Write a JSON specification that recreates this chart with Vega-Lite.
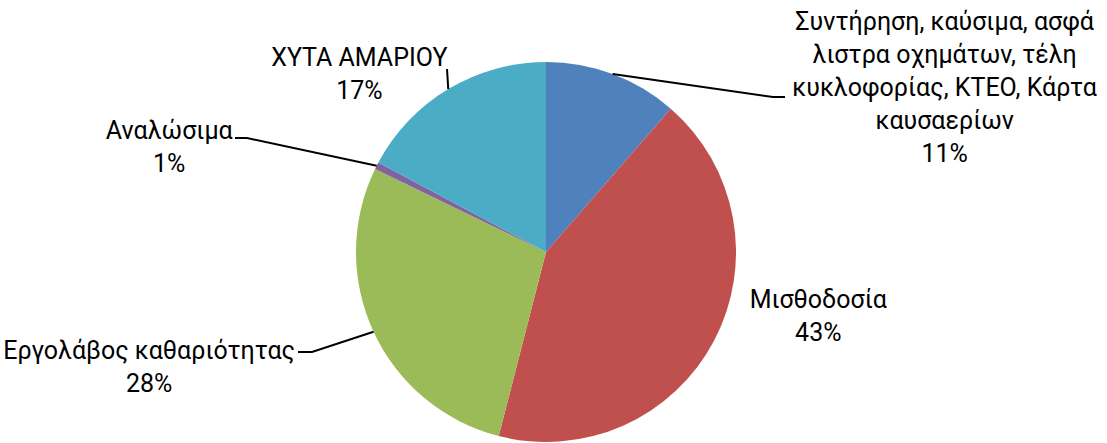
{
  "$schema": "https://vega.github.io/schema/vega-lite/v6.json",
  "width": 1092,
  "height": 382,
  "autosize": "none",
  "padding": {"left": 0, "top": 61, "right": 15, "bottom": 0},
  "background": "white",
  "config": {"view": {"stroke": null}, "font": "Roboto"},
  "data": {
    "values": [
      {"n": 1, "category": "Συντήρηση, καύσιμα, ασφάλιστρα οχημάτων, τέλη κυκλοφορίας, ΚΤΕΟ, Κάρτα καυσαερίων", "label": "Συντήρηση, καύσιμα, ασφά\nλιστρα οχημάτων, τέλη\nκυκλοφορίας, ΚΤΕΟ, Κάρτα\nκαυσαερίων", "value": 11.4},
      {"n": 2, "category": "Μισθοδοσία", "label": "Μισθοδοσία", "value": 42.6},
      {"n": 3, "category": "Εργολάβος καθαριότητας", "label": "Εργολάβος καθαριότητας", "value": 28.2},
      {"n": 4, "category": "Αναλώσιμα", "label": "Αναλώσιμα", "value": 0.6},
      {"n": 5, "category": "ΧΥΤΑ ΑΜΑΡΙΟΥ", "label": "ΧΥΤΑ ΑΜΑΡΙΟΥ", "value": 17.2}
    ]
  },
  "transform": [
    {"window": [{"op": "sum", "field": "value", "as": "cum"}], "sort": [{"field": "n"}], "frame": [null, 0]},
    {"calculate": "datum.cum - datum.value/2", "as": "mid"},
    {"calculate": "datum.label + '\\n' + format(datum.value/100, '.0%')", "as": "txt"}
  ],
  "layer": [
    {
      "mark": {"type": "arc", "outerRadius": 190},
      "encoding": {
        "theta": {"field": "value", "type": "quantitative", "stack": true},
        "order": {"field": "n", "type": "quantitative"},
        "color": {
          "field": "category", "type": "nominal",
          "scale": {
            "domain": ["Συντήρηση, καύσιμα, ασφάλιστρα οχημάτων, τέλη κυκλοφορίας, ΚΤΕΟ, Κάρτα καυσαερίων", "Μισθοδοσία", "Εργολάβος καθαριότητας", "Αναλώσιμα", "ΧΥΤΑ ΑΜΑΡΙΟΥ"],
            "range": ["#4F81BD", "#C0504D", "#9BBB59", "#8064A2", "#4BACC6"]
          },
          "legend": null
        }
      }
    },
    {
      "transform": [{"filter": "datum.n == 1"}],
      "mark": {"type": "text", "radius": 250, "dx": 311, "dy": 4, "align": "center", "baseline": "middle", "lineBreak": "\n", "lineHeight": 33, "fontSize": 25, "font": "Roboto", "color": "#000000"},
      "encoding": {"theta": {"field": "mid", "type": "quantitative", "stack": null, "scale": {"domain": [0, 100]}}, "text": {"field": "txt"}}
    },
    {
      "transform": [{"filter": "datum.n == 2"}],
      "mark": {"type": "text", "radius": 250, "dx": 51, "dy": -68, "align": "center", "baseline": "middle", "lineBreak": "\n", "lineHeight": 33, "fontSize": 25, "font": "Roboto", "color": "#000000"},
      "encoding": {"theta": {"field": "mid", "type": "quantitative", "stack": null, "scale": {"domain": [0, 100]}}, "text": {"field": "txt"}}
    },
    {
      "transform": [{"filter": "datum.n == 3"}],
      "mark": {"type": "text", "radius": 250, "dx": -170, "dy": -6, "align": "center", "baseline": "middle", "lineBreak": "\n", "lineHeight": 33, "fontSize": 25, "font": "Roboto", "color": "#000000"},
      "encoding": {"theta": {"field": "mid", "type": "quantitative", "stack": null, "scale": {"domain": [0, 100]}}, "text": {"field": "txt"}}
    },
    {
      "transform": [{"filter": "datum.n == 4"}],
      "mark": {"type": "text", "radius": 250, "dx": -154, "dy": -8, "align": "center", "baseline": "middle", "lineBreak": "\n", "lineHeight": 33, "fontSize": 25, "font": "Roboto", "color": "#000000"},
      "encoding": {"theta": {"field": "mid", "type": "quantitative", "stack": null, "scale": {"domain": [0, 100]}}, "text": {"field": "txt"}}
    },
    {
      "transform": [{"filter": "datum.n == 5"}],
      "mark": {"type": "text", "radius": 250, "dx": -58, "dy": 20, "align": "center", "baseline": "middle", "lineBreak": "\n", "lineHeight": 33, "fontSize": 25, "font": "Roboto", "color": "#000000"},
      "encoding": {"theta": {"field": "mid", "type": "quantitative", "stack": null, "scale": {"domain": [0, 100]}}, "text": {"field": "txt"}}
    },
    {
      "transform": [
        {"filter": "datum.n != 2"},
        {"calculate": "2*PI*datum.mid/100", "as": "ang"},
        {"calculate": "[190*sin(datum.ang), datum.n==1 ? 227 : datum.n==3 ? -234 : datum.n==4 ? -299 : -99, datum.n==1 ? 239 : datum.n==3 ? -248 : datum.n==4 ? -311 : -99]", "as": "px"},
        {"calculate": "[190*cos(datum.ang), datum.n==1 ? 155 : datum.n==3 ? -100 : datum.n==4 ? 114 : 183, datum.n==1 ? 155 : datum.n==3 ? -100 : datum.n==4 ? 114 : 183]", "as": "py"},
        {"calculate": "[0, 1, 2]", "as": "k"},
        {"flatten": ["px", "py", "k"]}
      ],
      "mark": {"type": "line", "color": "#000000", "strokeWidth": 2},
      "encoding": {
        "x": {"field": "px", "type": "quantitative", "scale": {"domain": [-546, 546], "nice": false, "zero": false}, "axis": null},
        "y": {"field": "py", "type": "quantitative", "scale": {"domain": [-191, 191], "nice": false, "zero": false}, "axis": null},
        "detail": {"field": "n", "type": "nominal"},
        "order": {"field": "k", "type": "quantitative"}
      }
    }
  ],
  "resolve": {"scale": {"theta": "independent"}}
}
